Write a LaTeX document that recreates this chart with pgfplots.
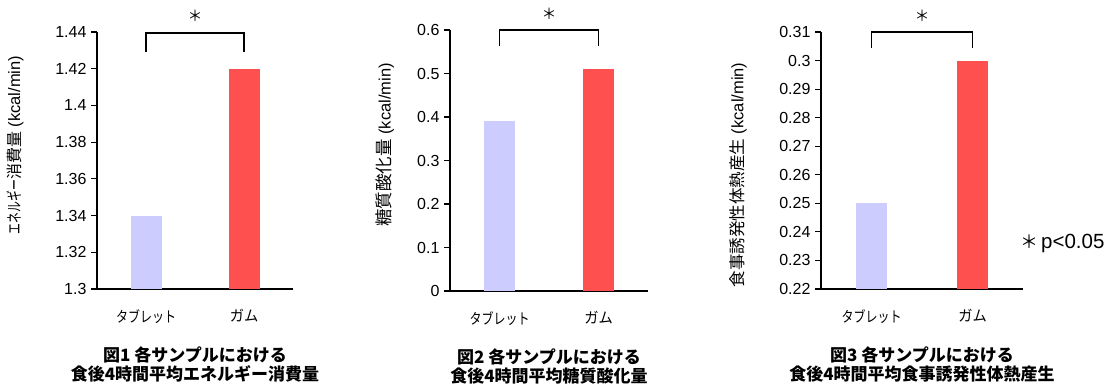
\documentclass[border=0pt]{standalone}
\usepackage{fontspec}
\setmainfont{Liberation Sans}
\newfontfamily\jp{Noto Sans CJK JP}
\usepackage{pgfplots}
\pgfplotsset{compat=1.18}
\definecolor{tab}{RGB}{204,204,255}
\definecolor{gum}{RGB}{255,80,80}
\pgfplotsset{mybar/.style={
  scale only axis, width=196pt, height=257pt,
  axis lines*=left, axis line style={line width=1.4pt,-},
  xmin=-0.5, xmax=1.5, xtick={0,1},
  xticklabels={{\scalebox{0.8}[1]{タブレット}},{\scalebox{0.95}[1]{ガム}}},
  x tick style={draw=none},
  y tick style={line width=1.1pt, black},
  tick align=outside, major tick length=6pt,
  ybar, bar width=31pt, clip=false,
  /pgf/number format/assume math mode=true,
  /pgf/number format/fixed, /pgf/number format/precision=2,
  yticklabel style={font=\fontsize{16}{16}\selectfont, xshift=-1pt},
  xticklabel style={font=\jp\fontsize{15}{15}\selectfont, yshift=-11pt},
  ylabel style={anchor=center, font=\fontsize{16.5}{16.5}\selectfont},
  xlabel style={at={(axis description cs:0.5,0)}, anchor=north, yshift=-54pt, align=center, font=\jp\bfseries\fontsize{17}{19}\selectfont},
}}
\begin{document}
\begin{tikzpicture}
\path[use as bounding box] (0,0) rectangle (1114pt,387pt);
% Chart 1
\begin{axis}[mybar, at={(97pt,98pt)}, anchor=south west,
  ymin=1.3, ymax=1.44, ytick={1.3,1.32,1.34,1.36,1.38,1.4,1.42,1.44},
  ylabel={{\jp\fontsize{16}{16}\selectfont \scalebox{0.68}[1]{エネルギー}消費量} (kcal/min)},
  ylabel style={at={(axis description cs:-0.418,0.56)}},
  xlabel={図1 各サンプルにおける\\食後4時間平均エネルギー消費量}]
\addplot[fill=tab, draw=none, bar shift=0pt] coordinates {(0,1.34)};
\addplot[fill=gum, draw=none, bar shift=0pt] coordinates {(1,1.42)};
\draw[line width=1.3pt] (axis cs:0,1.429) -- (axis cs:0,1.4395) -- (axis cs:1,1.4395) -- (axis cs:1,1.429);
\node[font=\jp\fontsize{15}{15}\selectfont] at (axis cs:0.5,1.44) [yshift=16pt] {＊};
\end{axis}
% Chart 2
\begin{axis}[mybar, at={(450pt,96pt)}, anchor=south west, width=198pt, height=261pt,
  ymin=0, ymax=0.6, ytick={0,0.1,0.2,0.3,0.4,0.5,0.6},
  ylabel={{\jp\fontsize{17.5}{17.5}\selectfont 糖質酸化量} (kcal/min)},
  ylabel style={at={(axis description cs:-0.328,0.56)}},
  xlabel={図2 各サンプルにおける\\食後4時間平均糖質酸化量}]
\addplot[fill=tab, draw=none, bar shift=0pt] coordinates {(0,0.39)};
\addplot[fill=gum, draw=none, bar shift=0pt] coordinates {(1,0.51)};
\draw[line width=1.3pt] (axis cs:0,0.563) -- (axis cs:0,0.6) -- (axis cs:1,0.6) -- (axis cs:1,0.563);
\node[font=\jp\fontsize{15}{15}\selectfont] at (axis cs:0.5,0.6) [yshift=16pt] {＊};
\end{axis}
% Chart 3
\begin{axis}[mybar, at={(821pt,98pt)}, anchor=south west, width=202pt,
  ymin=0.22, ymax=0.31, ytick={0.22,0.23,0.24,0.25,0.26,0.27,0.28,0.29,0.3,0.31},
  ylabel={{\jp\fontsize{16.5}{16.5}\selectfont 食事誘発性体熱産生} (kcal/min)},
  ylabel style={at={(axis description cs:-0.41,0.444)}},
  xlabel={図3 各サンプルにおける\\食後4時間平均食事誘発性体熱産生}]
\addplot[fill=tab, draw=none, bar shift=0pt] coordinates {(0,0.25)};
\addplot[fill=gum, draw=none, bar shift=0pt] coordinates {(1,0.30)};
\draw[line width=1.3pt] (axis cs:0,0.3044) -- (axis cs:0,0.31) -- (axis cs:1,0.31) -- (axis cs:1,0.3044);
\node[font=\jp\fontsize{15}{15}\selectfont] at (axis cs:0.5,0.31) [yshift=16pt] {＊};
\node[anchor=west, font=\fontsize{20.5}{20.5}\selectfont, inner sep=0pt] at (rel axis cs:1,0.179) [xshift=-3pt] {{\jp\fontsize{18}{18}\selectfont ＊}\hspace{3pt}p<0.05};
\end{axis}
\end{tikzpicture}
\end{document}
